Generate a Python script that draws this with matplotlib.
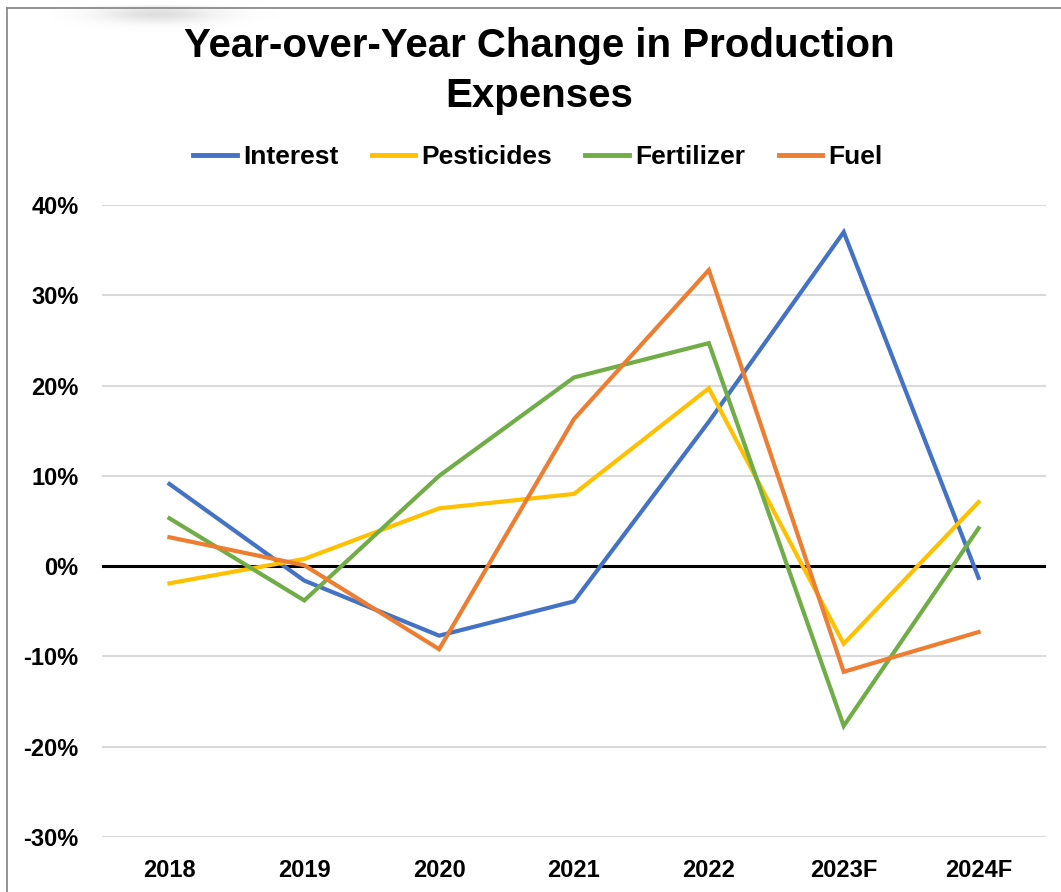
import numpy as np
import matplotlib
matplotlib.use("Agg")
import matplotlib.pyplot as plt
from matplotlib.lines import Line2D
from matplotlib.ticker import FuncFormatter, MultipleLocator

plt.rcParams["font.family"] = ["Liberation Sans", "DejaVu Sans"]
plt.rcParams["font.weight"] = "bold"

years = ["2018", "2019", "2020", "2021", "2022", "2023F", "2024F"]
interest = [9.1, -1.6, -7.7, -3.9, 16.0, 37.0, -1.3]
pesticides = [-1.9, 0.8, 6.4, 8.0, 19.7, -8.6, 7.1]
fertilizer = [5.3, -3.8, 10.0, 20.9, 24.7, -17.7, 4.2]
fuel = [3.2, 0.1, -9.2, 16.3, 32.8, -11.7, -7.3]

series = [
    ("Interest", interest, "#4472C4"),
    ("Pesticides", pesticides, "#FFC000"),
    ("Fertilizer", fertilizer, "#70AD47"),
    ("Fuel", fuel, "#ED7D31"),
]

W, H = 1061, 892
fig = plt.figure(figsize=(W / 100, H / 100), dpi=100)
fig.patch.set_facecolor("white")

# soft grey shadow near the top-left edge
shadow_ax = fig.add_axes([0.05, 1 - 45 / H, 0.22, 40 / H])
xx = np.linspace(-1, 1, 300)
yy = np.linspace(-1, 1, 60)
X, Y = np.meshgrid(xx, yy)
blob = np.exp(-((X + 0.1) ** 2) / 0.25 - ((Y + 0.55) ** 2) / 0.18)
rgba = np.zeros((60, 300, 4))
rgba[..., :3] = 0.55
rgba[..., 3] = 0.28 * blob
shadow_ax.imshow(rgba, aspect="auto", extent=(0, 1, 0, 1), interpolation="bilinear")
shadow_ax.set_axis_off()

# thin frame on the top and left edges
fig.add_artist(Line2D([7 / W, 1], [1 - 8 / H, 1 - 8 / H], color="#8a8a8a", lw=1.3,
                      transform=fig.transFigure))
fig.add_artist(Line2D([7 / W, 7 / W], [0, 1 - 8 / H], color="#8a8a8a", lw=1.3,
                      transform=fig.transFigure))

ax = fig.add_axes([102 / W, 1 - 837 / H, (1046 - 102) / W, (837 - 205) / H])
x = np.arange(len(years))

ax.axhline(0, color="black", lw=2.2, zorder=2)
handles = []
for name, vals, col in series:
    (ln,) = ax.plot(x, vals, color=col, lw=3.0, label=name, zorder=3,
                    solid_joinstyle="miter")
    handles.append(ln)

ax.set_xlim(-0.5, len(years) - 0.5)
ax.set_ylim(-30, 40)
ax.yaxis.set_major_locator(MultipleLocator(10))
ax.yaxis.set_major_formatter(FuncFormatter(lambda v, p: f"{v:.0f}%"))
ax.set_xticks(x)
ax.set_xticklabels(years)
ax.grid(axis="y", color="#D9D9D9", lw=1.5, zorder=1)
ax.set_axisbelow(True)
for s in ax.spines.values():
    s.set_visible(False)
ax.tick_params(axis="both", length=0, labelsize=17)
ax.tick_params(axis="y", pad=17)
ax.tick_params(axis="x", pad=16)
for lbl in ax.get_xticklabels() + ax.get_yticklabels():
    lbl.set_fontweight("bold")

fig.text(539 / W, 1 - 56.7 / H, "Year-over-Year Change in Production",
         ha="center", va="baseline", fontsize=29, fontweight="bold")
fig.text(539 / W, 1 - 106.7 / H, "Expenses",
         ha="center", va="baseline", fontsize=29, fontweight="bold")

leg = fig.legend(handles=handles, loc="center", bbox_to_anchor=(538 / W, 1 - 157 / H),
                 ncol=4, frameon=False, handlelength=1.65,
                 handletextpad=0.25, columnspacing=1.25,
                 prop={"weight": "bold", "size": 19})
for lh in leg.get_lines():
    lh.set_linewidth(3.5)

fig.savefig("out.png", dpi=100, facecolor="white")
